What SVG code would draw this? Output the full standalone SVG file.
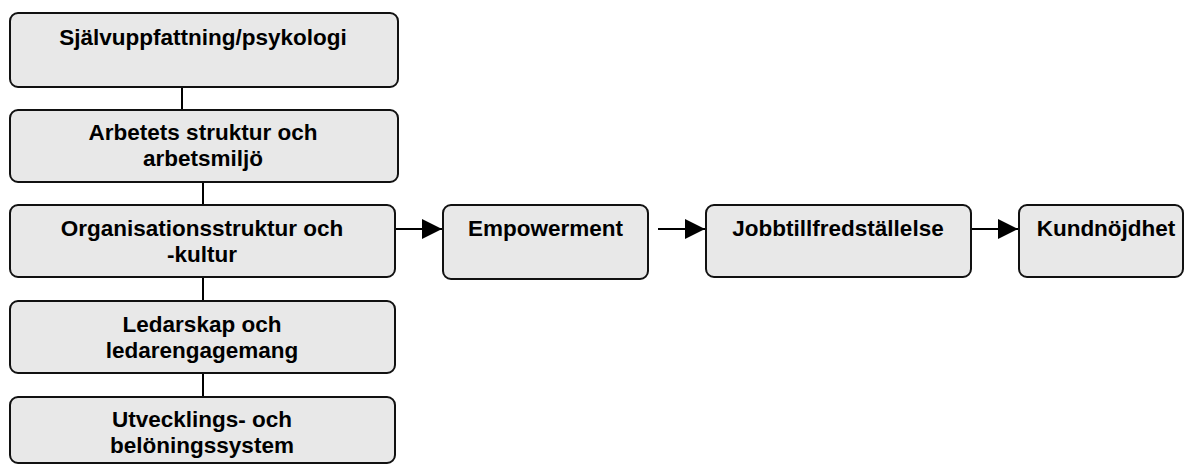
<svg xmlns="http://www.w3.org/2000/svg" width="1186" height="464" viewBox="0 0 1186 464">
<defs>
<style>
.box{fill:#e8e8e8;stroke:#111;stroke-width:2}
.t{font-family:"Liberation Sans",Arial,sans-serif;font-weight:bold;font-size:22.5px;fill:#000;text-anchor:middle}
.c{stroke:#000;stroke-width:2;fill:none}
</style>
<marker id="ah2" viewBox="0 0 20 20" refX="20" refY="10" markerWidth="20" markerHeight="20" markerUnits="userSpaceOnUse" orient="auto">
<path d="M0,0 L20,10 L0,20 z" fill="#000"/>
</marker>
</defs>
<rect width="1186" height="464" fill="#fff"/>
<g id="connectors">
<line class="c" x1="182" y1="87" x2="182" y2="110"/>
<line class="c" x1="203" y1="182" x2="203" y2="205"/>
<line class="c" x1="203" y1="277" x2="203" y2="301"/>
<line class="c" x1="203" y1="373" x2="203" y2="397"/>
<line class="c" x1="395" y1="229" x2="442" y2="229" marker-end="url(#ah2)"/>
<line class="c" x1="658" y1="229" x2="705" y2="229" marker-end="url(#ah2)"/>
<line class="c" x1="972" y1="229" x2="1018" y2="229" marker-end="url(#ah2)"/>
</g>
<g id="n1">
<rect class="box" x="10" y="13" width="388" height="74" rx="8"/>
<text class="t" x="203" y="45">Självuppfattning/psykologi</text>
</g>
<g id="n2">
<rect class="box" x="10" y="110" width="388" height="72" rx="8"/>
<text class="t" x="203" y="140">Arbetets struktur och</text>
<text class="t" x="203" y="166">arbetsmiljö</text>
</g>
<g id="n3">
<rect class="box" x="10" y="205" width="385" height="72" rx="8"/>
<text class="t" x="202" y="236">Organisationsstruktur och</text>
<text class="t" x="202" y="262">-kultur</text>
</g>
<g id="n4">
<rect class="box" x="10" y="301" width="385" height="72" rx="8"/>
<text class="t" x="202" y="332">Ledarskap och</text>
<text class="t" x="202" y="358">ledarengagemang</text>
</g>
<g id="n5">
<rect class="box" x="10" y="397" width="385" height="66" rx="8"/>
<text class="t" x="202" y="427">Utvecklings- och</text>
<text class="t" x="202" y="453">belöningssystem</text>
</g>
<g id="n6">
<rect class="box" x="443" y="205" width="205" height="74" rx="8"/>
<text class="t" x="545.5" y="236">Empowerment</text>
</g>
<g id="n7">
<rect class="box" x="706" y="205" width="265" height="72" rx="8"/>
<text class="t" x="838" y="236">Jobbtillfredställelse</text>
</g>
<g id="n8">
<rect class="box" x="1019" y="205" width="164" height="72" rx="8"/>
<text class="t" x="1106" y="236">Kundnöjdhet</text>
</g>
</svg>
